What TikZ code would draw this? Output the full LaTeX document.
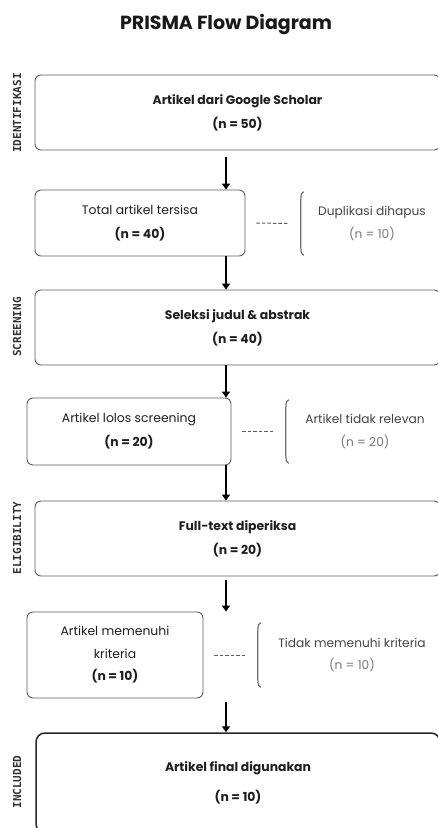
\documentclass[tikz,border=0pt]{standalone}
\usepackage{fontspec}
\setmainfont{Poppins}
\newfontfamily\monof{DejaVu Sans Mono}
\usetikzlibrary{arrows.meta}
\definecolor{boxc}{HTML}{5C5C5C}
\definecolor{txt}{HTML}{1E1E1E}
\definecolor{lbl}{HTML}{444444}
\definecolor{nlbl}{HTML}{777777}
\definecolor{brc}{HTML}{6E6E6E}
\begin{document}
\begin{tikzpicture}[x=1pt,y=-1pt,
  box/.style={draw=boxc, line width=0.9pt, rounded corners=6pt, inner sep=0pt,
    align=center, text=txt, font=\fontsize{12.4}{24}\selectfont},
  finalbox/.style={box, draw=black!85, line width=1.5pt, rounded corners=9pt},
  side/.style={rotate=90, font=\monof\bfseries\fontsize{11}{12}\selectfont, text=black!80},
  rlabel/.style={inner sep=0pt, align=center, text=lbl, font=\fontsize{12.2}{22.5}\selectfont},
  arr/.style={-{Triangle[length=6pt,width=8pt]}, line width=1.3pt, black},
  dashc/.style={draw=boxc, line width=1pt, dash pattern=on 3.5pt off 2pt},
  brk/.style={draw=brc, line width=1.2pt}
]
\useasboundingbox (0,0) rectangle (438,828);
\clip (0,0) rectangle (438,828);

% title
\node[font=\fontsize{19}{22}\selectfont\bfseries, text=black!90] (title) at (226,25) {PRISMA Flow Diagram};

% side labels
\node[side] (s1) at (17,113) {IDENTIFIKASI};
\node[side] (s2) at (17,327) {SCREENING};
\node[side] (s3) at (17,538) {ELIGIBILITY};
\node[side] (s4) at (17,782) {INCLUDED};

% boxes
\node[box, minimum width=405pt, minimum height=75pt] (b1) at (237.5,112.5)
  {\textbf{Artikel dari Google Scholar}\\\textbf{(n = 50)}};
\node[box, minimum width=210pt, minimum height=66pt] (b2) at (140,223)
  {Total artikel tersisa\\\textbf{(n = 40)}};
\node[box, minimum width=405pt, minimum height=75pt] (b3) at (237.5,327.5)
  {\textbf{Seleksi judul \& abstrak}\\\textbf{(n = 40)}};
\node[box, minimum width=204pt, minimum height=67pt] (b4) at (129,431.5)
  {Artikel lolos screening\\\textbf{(n = 20)}};
\node[box, minimum width=405pt, minimum height=75pt] (b5) at (237.5,538.5)
  {\textbf{Full-text diperiksa}\\\textbf{(n = 20)}};
\node[box, minimum width=176pt, minimum height=86pt, font=\fontsize{12.4}{22.5}\selectfont] (b6) at (115,655)
  {Artikel memenuhi\\kriteria\\\textbf{(n = 10)}};
\node[finalbox, minimum width=404pt, minimum height=100pt] (b7) at (238,783)
  {\textbf{Artikel final digunakan}\\[6pt]\textbf{(n = 10)}};

% right labels
\node[rlabel, minimum width=142pt, minimum height=63pt] (d1) at (372,223.5)
  {Duplikasi dihapus\\\textcolor{nlbl}{(n = 10)}};
\node[rlabel, minimum width=158pt, minimum height=63pt] (d2) at (365,431.5)
  {Artikel tidak relevan\\\textcolor{nlbl}{(n = 20)}};
\node[rlabel, minimum width=188pt, minimum height=64pt] (d3) at (352,655)
  {Tidak memenuhi kriteria\\\textcolor{nlbl}{(n = 10)}};

% brackets
\foreach \d in {d1,d2,d3}{
  \draw[brk] ([xshift=3pt]\d.north west) .. controls ([xshift=0.5pt,yshift=-1pt]\d.north west) .. ([yshift=-8pt]\d.north west)
     -- ([yshift=8pt]\d.south west) .. controls ([xshift=0.5pt,yshift=1pt]\d.south west) .. ([xshift=3pt]\d.south west);
}

% dashed links
\draw[dashc] ([xshift=11pt]b2.east) -- ([xshift=-13pt]d1.west);
\draw[dashc] ([xshift=11pt]b4.east) -- ([xshift=-12pt]d2.west);
\draw[dashc] ([xshift=11pt]b6.east) -- ([xshift=-11pt]d3.west);

% arrows
\coordinate (ax) at (226,0);
\draw[arr, shorten <=7pt] (b1.south -| ax) -- (b2.north -| ax);
\draw[arr] (b2.south -| ax) -- (b3.north -| ax);
\draw[arr] (b3.south -| ax) -- (b4.north -| ax);
\draw[arr] (b4.south -| ax) -- (b5.north -| ax);
\draw[arr, shorten <=4pt] (b5.south -| ax) -- (b6.north -| ax);
\draw[arr, shorten <=4pt] (b6.south -| ax) -- (b7.north -| ax);
\end{tikzpicture}
\end{document}
